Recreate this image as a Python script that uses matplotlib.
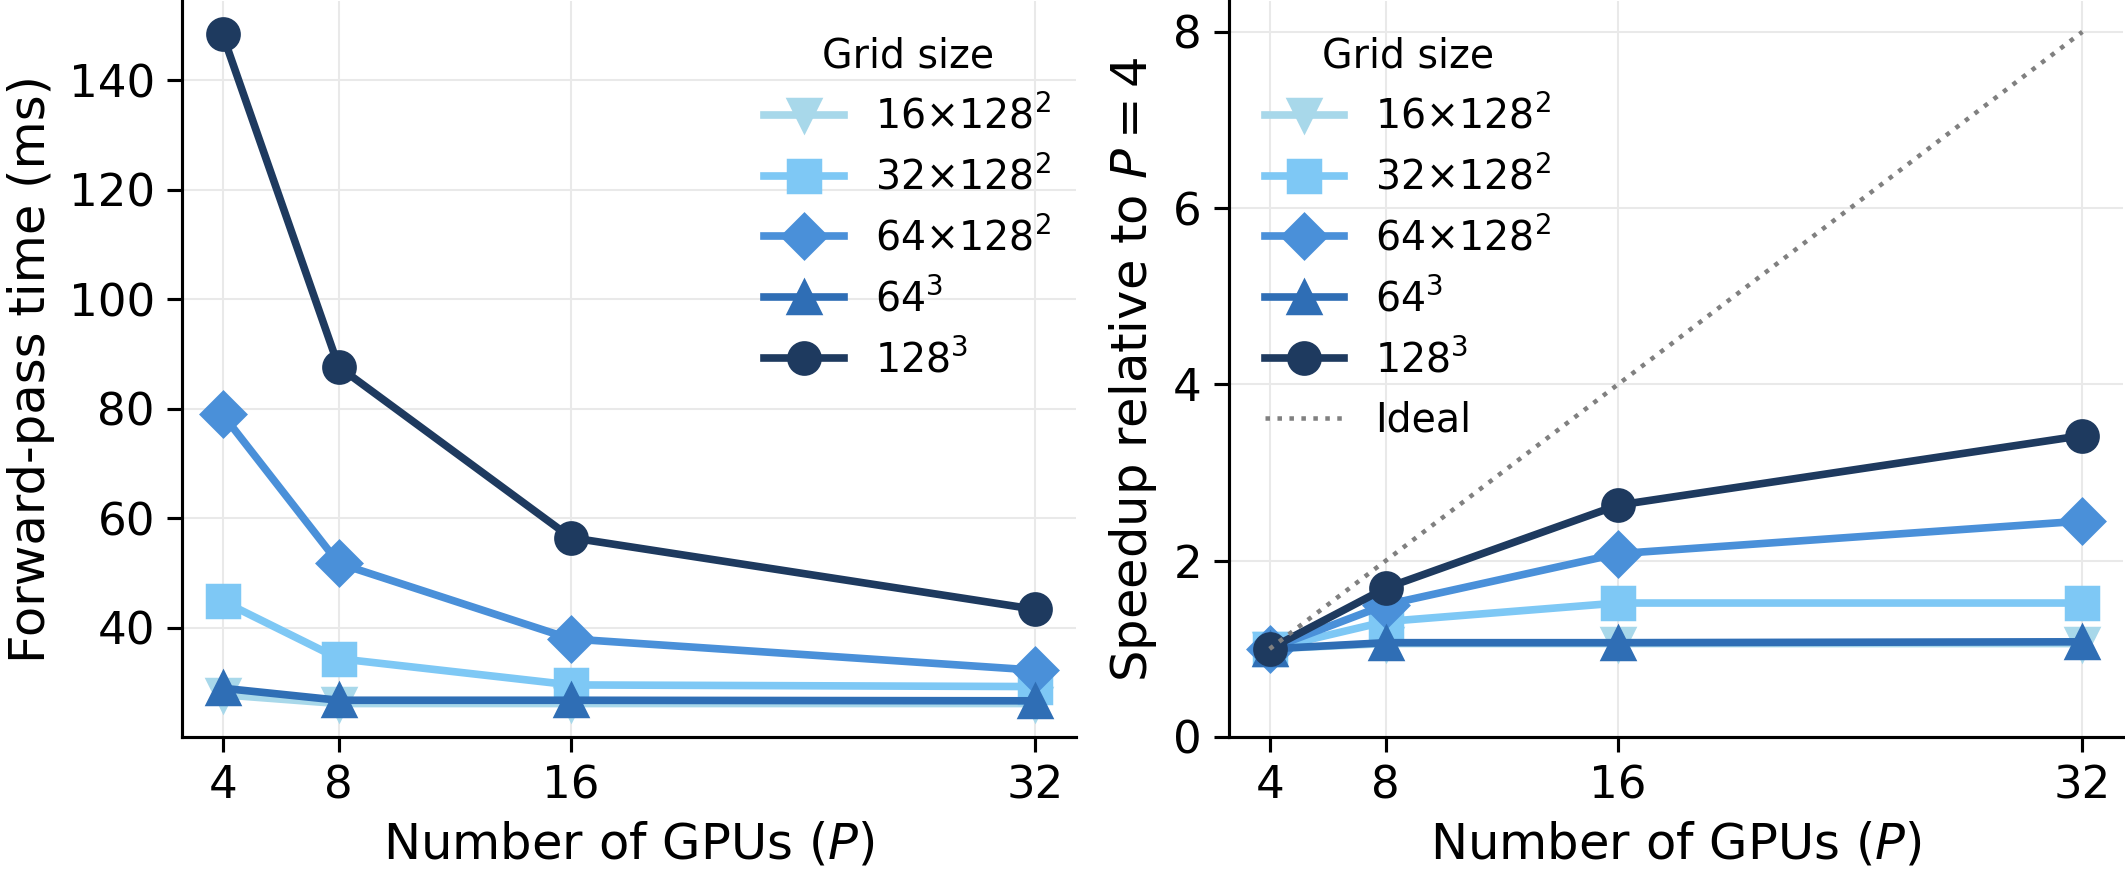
import matplotlib
matplotlib.use("Agg")
import matplotlib.pyplot as plt

plt.rcParams['font.family'] = ['DejaVu Sans']

gpus = [4, 8, 16, 32]
grid_labels = ['16×128$^2$', '32×128$^2$', '64×128$^2$', '64$^3$', '128$^3$']
markers = ['v', 's', 'D', '^', 'o']
colors = ['#a8d8ea', '#7ec8f5', '#4a90d9', '#2f6eb5', '#1e3a5f']

time_16x128 = [27.8, 26.2, 26.2, 26.2]
time_32x128 = [44.9, 34.4, 29.6, 29.3]
time_64x128 = [79.0, 51.8, 38.0, 32.3]
time_64c = [29.0, 26.8, 26.8, 26.7]
time_128c = [148.4, 87.7, 56.5, 43.4]

speed_16x128 = [1.0, 1.06, 1.06, 1.06]
speed_32x128 = [1.0, 1.31, 1.52, 1.52]
speed_64x128 = [1.0, 1.50, 2.08, 2.45]
speed_64c = [1.0, 1.07, 1.07, 1.08]
speed_128c = [1.0, 1.69, 2.63, 3.42]

ideal = [1, 2, 4, 8]

times = [time_16x128, time_32x128, time_64x128, time_64c, time_128c]
speeds = [speed_16x128, speed_32x128, speed_64x128, speed_64c, speed_128c]

W, H, DPI = 2125, 870, 250
fig = plt.figure(figsize=(W / DPI, H / DPI), dpi=DPI)
ax1 = fig.add_axes([182 / W, (H - 737) / H, (1076 - 182) / W, 736 / H])
ax2 = fig.add_axes([1229 / W, (H - 737) / H, (2123 - 1229) / W, 736 / H])

lw = 2.2
ms = 9
for ax, data in ((ax1, times), (ax2, speeds)):
    for lab, mk, col, vals in zip(grid_labels, markers, colors, data):
        ax.plot(gpus, vals, marker=mk, color=col, lw=lw, ms=ms, label=lab)

ax2.plot(gpus, ideal, ls=':', color='#808080', lw=1.3, label='Ideal')
ax2.set_ylim(bottom=0)

for ax in (ax1, ax2):
    ax.set_xticks(gpus)
    ax.grid(True, color='#e9e9e9', lw=0.6)
    ax.set_axisbelow(True)
    for s in ('top', 'right'):
        ax.spines[s].set_visible(False)
    for s in ('left', 'bottom'):
        ax.spines[s].set_linewidth(0.9)
    ax.tick_params(labelsize=13, length=4.3, width=0.9)
    ax.set_xlabel('Number of GPUs ($P$)', fontsize=14.3)

ax2.set_yticks([0, 2, 4, 6, 8])
ax1.set_ylabel('Forward-pass time (ms)', fontsize=14.3)
ax2.set_ylabel('Speedup relative to $P = 4$', fontsize=14.3)

ax1.legend(title='Grid size', loc='upper right', frameon=False, fontsize=11.4,
           title_fontsize=11.4, bbox_to_anchor=(1.012, 1.0))
ax2.legend(title='Grid size', loc='upper left', frameon=False, fontsize=11.4,
           title_fontsize=11.4, bbox_to_anchor=(0.0, 1.0))

fig.savefig('out.png', dpi=DPI)
